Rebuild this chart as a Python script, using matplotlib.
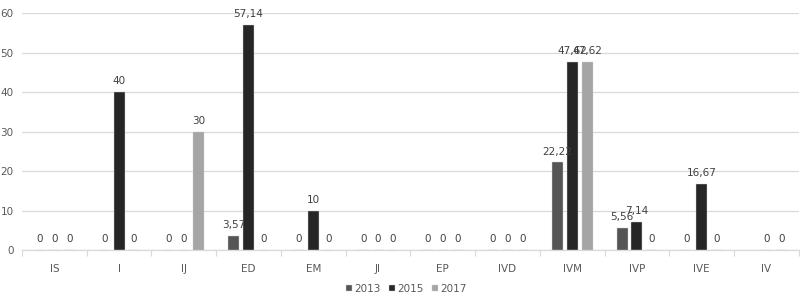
import numpy as np
import matplotlib.pyplot as plt

## Données
categories = ['IS', 'I', 'IJ', 'ED', 'EM', 'JI', 'EP', 'IVD', 'IVM', 'IVP', 'IVE', 'IV']
v2013 = [0, 0, 0, 3.57, 0, 0, 0, 0, 22.22, 5.56, 0, np.nan]
v2015 = [0, 40, 0, 57.14, 10, 0, 0, 0, 47.62, 7.14, 16.67, 0]
v2017 = [0, 0, 30, 0, 0, 0, 0, 0, 47.62, 0, 0, 0]
annees = ['2013', '2015', '2017']
couleurs = ['#555555', '#262626', '#a5a5a5']

plt.rcParams['font.family'] = ['Liberation Sans Narrow', 'DejaVu Sans']

fig = plt.figure(figsize=(8, 2.96), dpi=100)
ax = fig.add_axes([0.0275, 0.155, 0.971, 0.80])

x = np.arange(len(categories))
larg = 0.17
pas = 0.23

for i, (serie, nom, col) in enumerate(zip([v2013, v2015, v2017], annees, couleurs)):
    pos = x + (i - 1) * pas
    ax.bar(pos, serie, width=larg, color=col, label=nom, edgecolor='#d0d0d0', linewidth=0.3, zorder=3)
    for xp, val in zip(pos, serie):
        if np.isnan(val):
            continue
        txt = ('%.2f' % val).rstrip('0').rstrip('.').replace('.', ',')
        ax.text(xp, val + 1.5, txt, ha='center', va='bottom', fontsize=7.5, color='#404040', zorder=4)

ax.set_xlim(-0.5, len(categories) - 0.5)
ax.set_ylim(0, 60)
ax.set_yticks(np.arange(0, 61, 10))
ax.yaxis.grid(True, color='#d9d9d9', linewidth=0.9, zorder=0)
ax.set_xticks(x)
ax.set_xticklabels(categories)
ax.set_xticks(np.arange(-0.5, len(categories), 1), minor=True)
ax.tick_params(axis='x', which='major', length=0, pad=10, labelsize=7.5, labelcolor='#595959')
ax.tick_params(axis='x', which='minor', length=4, color='#d9d9d9', width=0.8)
ax.tick_params(axis='y', length=0, labelsize=7.5, labelcolor='#595959', pad=6)
for s in ['top', 'right', 'left']:
    ax.spines[s].set_visible(False)
ax.spines['bottom'].set_color('#d9d9d9')
ax.spines['bottom'].set_linewidth(0.9)

fig.legend(loc='center', bbox_to_anchor=(0.508, 0.025), ncol=3, frameon=False,
           fontsize=7.5, handlelength=0.6, handleheight=0.6, handletextpad=0.2,
           columnspacing=0.8, labelcolor='#595959', borderpad=0)

fig.savefig('out.png', dpi=100)
